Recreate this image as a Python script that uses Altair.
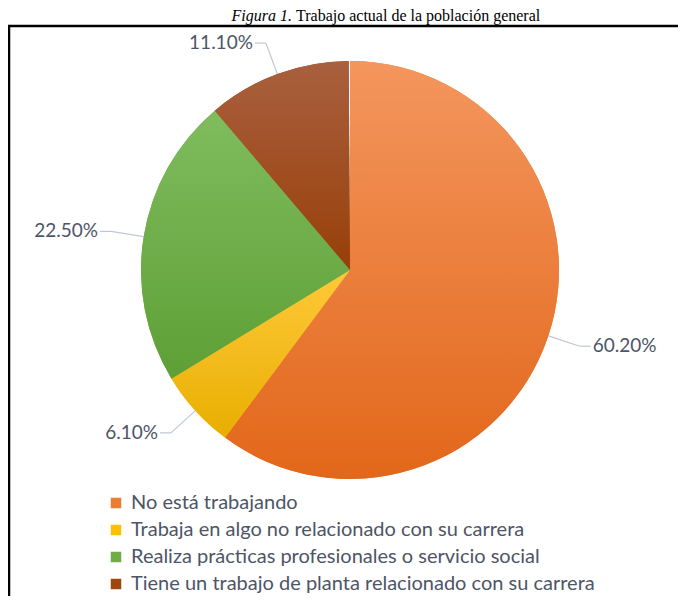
import math
import altair as alt
import pandas as pd

categories = [
    "No está trabajando",
    "Trabaja en algo no relacionado con su carrera",
    "Realiza prácticas profesionales o servicio social",
    "Tiene un trabajo de planta relacionado con su carrera",
]
values = [60.2, 6.1, 22.5, 11.1]
labels = ["60.20%", "6.10%", "22.50%", "11.10%"]
colors = ["#ED7D31", "#FFC000", "#70AD47", "#9E480E"]
grad_top = ["#F4965E", "#FFC93A", "#80BC5E", "#A9603F"]
grad_bottom = ["#E2671A", "#E8AE00", "#5E9F35", "#983F08"]
title_italic = "Figura 1."
title_rest = "Trabajo actual de la población general"

df = pd.DataFrame({"cat": categories, "value": values, "label": labels, "order": list(range(len(values)))})

W, H = 670, 588
CX, CY, R, RL = 342, 262, 209, 242

base = (
    alt.Chart(df)
    .transform_window(cum="sum(value)", sort=[alt.SortField("order")], frame=[None, 0])
    .transform_calculate(
        start="datum.cum - datum.value",
        a="(datum.cum - datum.value / 2) / 100 * 2 * PI",
    )
    .transform_calculate(
        side="sin(datum.a) >= 0 ? 1 : -1",
        x1=f"{CX} + {R} * sin(datum.a)",
        y1=f"{CY} - {R} * cos(datum.a)",
        x2=f"{CX} + {RL} * sin(datum.a)",
        y2=f"{CY} - {RL} * cos(datum.a)",
    )
    .transform_calculate(
        x3="datum.x2 + datum.side * 11",
        xt="datum.x2 + datum.side * 13",
    )
)

theta = alt.Theta("start:Q", scale=alt.Scale(domain=[0, 100], range=[0, 2 * math.pi]))
theta2 = alt.Theta2("cum:Q")

solid = base.mark_arc(radius=R, x=CX, y=CY).encode(
    theta=theta,
    theta2=theta2,
    color=alt.Color(
        "cat:N",
        sort=categories,
        scale=alt.Scale(domain=categories, range=colors),
        legend=alt.Legend(
            title=None,
            orient="none",
            legendX=98,
            legendY=485,
            padding=0,
            direction="vertical",
            symbolType="square",
            symbolSize=110,
            symbolStrokeWidth=0,
            labelFont="Lato",
            labelFontSize=20,
            labelColor="#4d5566",
            labelOffset=5,
            rowPadding=7,
            labelLimit=620,
        ),
    ),
)

grad_layers = []
for i in range(len(values)):
    g = alt.LinearGradient(
        gradient="linear",
        stops=[
            alt.GradientStop(color=grad_top[i], offset=0),
            alt.GradientStop(color=grad_bottom[i], offset=1),
        ],
        x1=0, x2=0, y1=0, y2=1,
    )
    grad_layers.append(
        base.transform_filter(f"datum.order == {i}")
        .mark_arc(radius=R, x=CX, y=CY, fill=g)
        .encode(theta=theta, theta2=theta2)
    )

X = lambda f: alt.X(f, scale=None, axis=None)
Y = lambda f: alt.Y(f, scale=None, axis=None)

leader1 = base.mark_rule(color="#BFC7D5", strokeWidth=1.2).encode(
    x=X("x1:Q"), y=Y("y1:Q"), x2="x2:Q", y2="y2:Q"
)
leader2 = base.mark_rule(color="#BFC7D5", strokeWidth=1.2).encode(
    x=X("x2:Q"), y=Y("y2:Q"), x2="x3:Q"
)
txt_r = base.transform_filter("datum.side > 0").mark_text(
    font="Lato", fontSize=19, color="#4d5566", align="left", baseline="middle"
).encode(x=X("xt:Q"), y=Y("y2:Q"), text="label:N")
txt_l = base.transform_filter("datum.side < 0").mark_text(
    font="Lato", fontSize=19, color="#4d5566", align="right", baseline="middle"
).encode(x=X("xt:Q"), y=Y("y2:Q"), text="label:N")

one = alt.Chart(pd.DataFrame({"t1": [title_italic], "t2": [title_rest]}))
border_top = one.mark_rule(color="black", strokeWidth=2.5).encode(
    x=alt.value(0), x2=alt.value(W), y=alt.value(18)
)
border_left = one.mark_rule(color="black", strokeWidth=2.5).encode(
    x=alt.value(1), y=alt.value(17), y2=alt.value(H)
)
title1 = one.mark_text(
    font="Liberation Serif", fontSize=16, fontStyle="italic", align="right",
    baseline="alphabetic", color="black"
).encode(x=alt.value(284), y=alt.value(13), text="t1:N")
title2 = one.mark_text(
    font="Liberation Serif", fontSize=16, align="left", baseline="alphabetic", color="black"
).encode(x=alt.value(288), y=alt.value(13), text="t2:N")

chart = (
    alt.layer(solid, *grad_layers, leader1, leader2, txt_r, txt_l,
              border_top, border_left, title1, title2)
    .properties(width=W, height=H, padding=0, autosize=alt.AutoSizeParams(type="none"))
    .configure_view(stroke=None)
)

chart.save("out.html", embed_options={"renderer": "svg", "actions": False})
